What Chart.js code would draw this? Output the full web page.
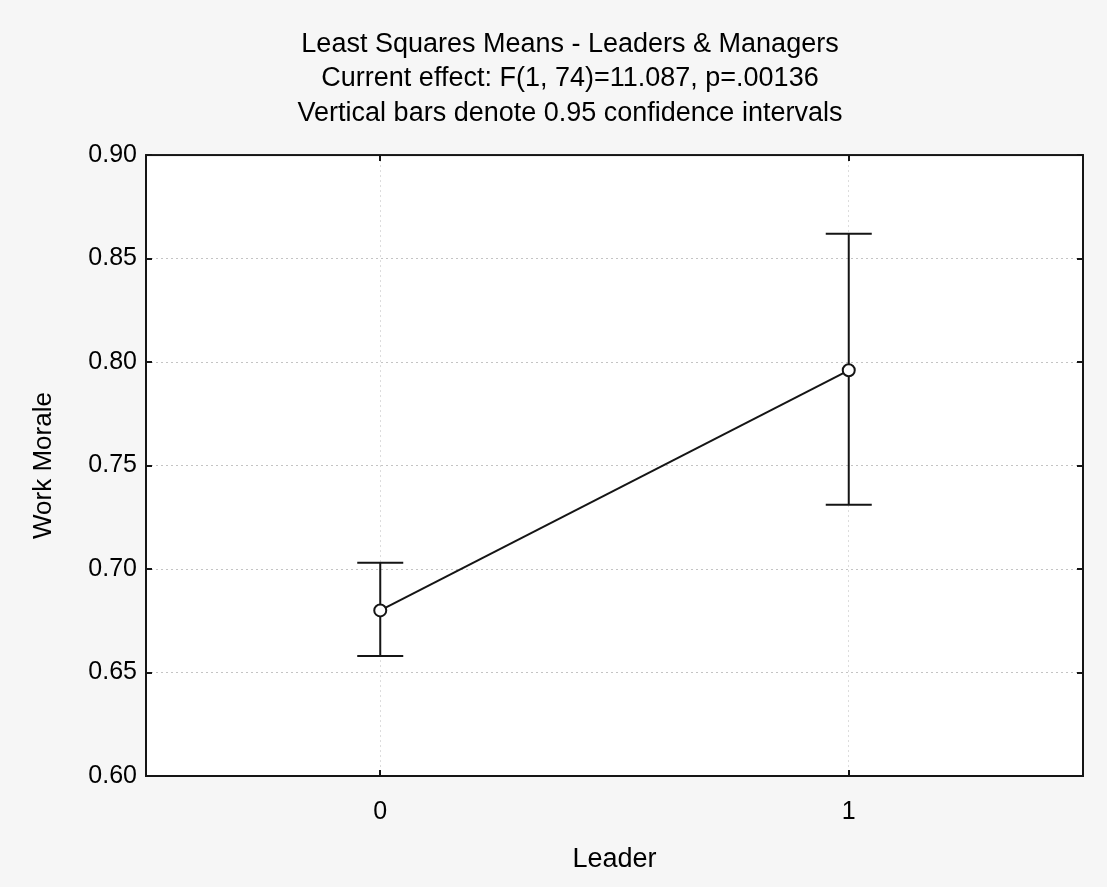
<!DOCTYPE html>
<html>
<head>
<meta charset="utf-8">
<script src="https://cdn.jsdelivr.net/npm/chart.js@4.4.1/dist/chart.umd.min.js"></script>
<style>
  html, body { margin: 0; padding: 0; background: #f6f6f6; }
  canvas { display: block; }
</style>
</head>
<body>
<canvas id="chart" width="1107" height="887"></canvas>
<script>
// Least squares means of work morale by leader status, with 95% CIs
const leaderLevels = [0, 1];
const meanMorale = [0.680, 0.796];
const ciLower = [0.658, 0.731];
const ciUpper = [0.703, 0.862];
const xTickValues = [0, 1];
const yTickValues = [0.60, 0.65, 0.70, 0.75, 0.80, 0.85, 0.90];
const titleLines = [
  'Least Squares Means - Leaders & Managers',
  'Current effect: F(1, 74)=11.087, p=.00136',
  'Vertical bars denote 0.95 confidence intervals'
];

const FONT = "'Liberation Sans', Arial, Helvetica, sans-serif";
const INK = '#151515';

// Page/plot backgrounds, confidence-interval whiskers, and the boxed frame with inward ticks
const statPlotPlugin = {
  id: 'statPlot',
  beforeDraw(chart) {
    const { ctx, chartArea: a } = chart;
    ctx.save();
    ctx.fillStyle = '#f6f6f6';
    ctx.fillRect(0, 0, chart.width, chart.height);
    ctx.fillStyle = '#ffffff';
    ctx.fillRect(a.left, a.top, a.right - a.left, a.bottom - a.top);
    ctx.restore();
  },
  beforeDatasetsDraw(chart) {
    const { ctx, scales: { x, y } } = chart;
    const capHalf = 23;
    ctx.save();
    ctx.strokeStyle = INK;
    ctx.lineWidth = 2;
    leaderLevels.forEach((lv, i) => {
      const px = x.getPixelForValue(lv);
      const top = y.getPixelForValue(ciUpper[i]);
      const bot = y.getPixelForValue(ciLower[i]);
      ctx.beginPath();
      ctx.moveTo(px, top); ctx.lineTo(px, bot);
      ctx.moveTo(px - capHalf, top); ctx.lineTo(px + capHalf, top);
      ctx.moveTo(px - capHalf, bot); ctx.lineTo(px + capHalf, bot);
      ctx.stroke();
    });
    ctx.restore();
  },
  afterDatasetsDraw(chart) {
    const { ctx, chartArea: a, scales: { x, y } } = chart;
    const tl = 6;
    ctx.save();
    ctx.strokeStyle = INK;
    ctx.lineWidth = 2;
    ctx.strokeRect(a.left, a.top, a.right - a.left, a.bottom - a.top);
    ctx.beginPath();
    yTickValues.forEach(v => {
      const py = Math.round(y.getPixelForValue(v));
      ctx.moveTo(a.left, py); ctx.lineTo(a.left + tl, py);
      ctx.moveTo(a.right, py); ctx.lineTo(a.right - tl, py);
    });
    xTickValues.forEach(v => {
      const px = Math.round(x.getPixelForValue(v));
      ctx.moveTo(px, a.bottom); ctx.lineTo(px, a.bottom - tl);
      ctx.moveTo(px, a.top); ctx.lineTo(px, a.top + tl);
    });
    ctx.stroke();
    ctx.restore();
  }
};

new Chart(document.getElementById('chart'), {
  type: 'scatter',
  data: {
    datasets: [{
      data: leaderLevels.map((lv, i) => ({ x: lv, y: meanMorale[i] })),
      showLine: true,
      borderColor: INK,
      borderWidth: 2,
      tension: 0,
      pointRadius: 6,
      pointBackgroundColor: '#ffffff',
      pointBorderColor: INK,
      pointBorderWidth: 2
    }]
  },
  options: {
    responsive: false,
    animation: false,
    devicePixelRatio: 1,
    layout: { padding: { left: 57, right: 24, top: 0, bottom: 0 } },
    plugins: {
      legend: { display: false },
      tooltip: { enabled: false },
      title: {
        display: true,
        text: titleLines,
        color: '#000',
        font: { family: FONT, size: 27, weight: 'normal', lineHeight: 1.26 },
        padding: { top: 28, bottom: 25 }
      }
    },
    scales: {
      x: {
        type: 'linear',
        min: -0.5,
        max: 1.5,
        afterBuildTicks: s => { s.ticks = xTickValues.map(v => ({ value: v })); },
        afterFit: s => { s.height = 111; },
        ticks: {
          color: '#000',
          font: { family: FONT, size: 25 },
          padding: 21,
          callback: v => String(v)
        },
        grid: { color: '#dcdcdc', lineWidth: 1, drawTicks: false },
        border: { display: false, dash: [2, 3] },
        title: {
          display: true,
          text: 'Leader',
          color: '#000',
          font: { family: FONT, size: 27 },
          padding: { top: 0, bottom: 11 }
        }
      },
      y: {
        type: 'linear',
        min: 0.60,
        max: 0.90,
        afterBuildTicks: s => { s.ticks = yTickValues.map(v => ({ value: v })); },
        afterFit: s => { s.width = 89; },
        ticks: {
          color: '#000',
          font: { family: FONT, size: 25 },
          padding: 9,
          callback: v => v.toFixed(2)
        },
        grid: { color: '#c4c4c4', lineWidth: 1, drawTicks: false },
        border: { display: false, dash: [2, 3] },
        title: {
          display: true,
          text: 'Work Morale',
          color: '#000',
          font: { family: FONT, size: 26 },
          padding: { top: -29, bottom: 0 }
        }
      }
    }
  },
  plugins: [statPlotPlugin]
});
</script>
</body>
</html>
